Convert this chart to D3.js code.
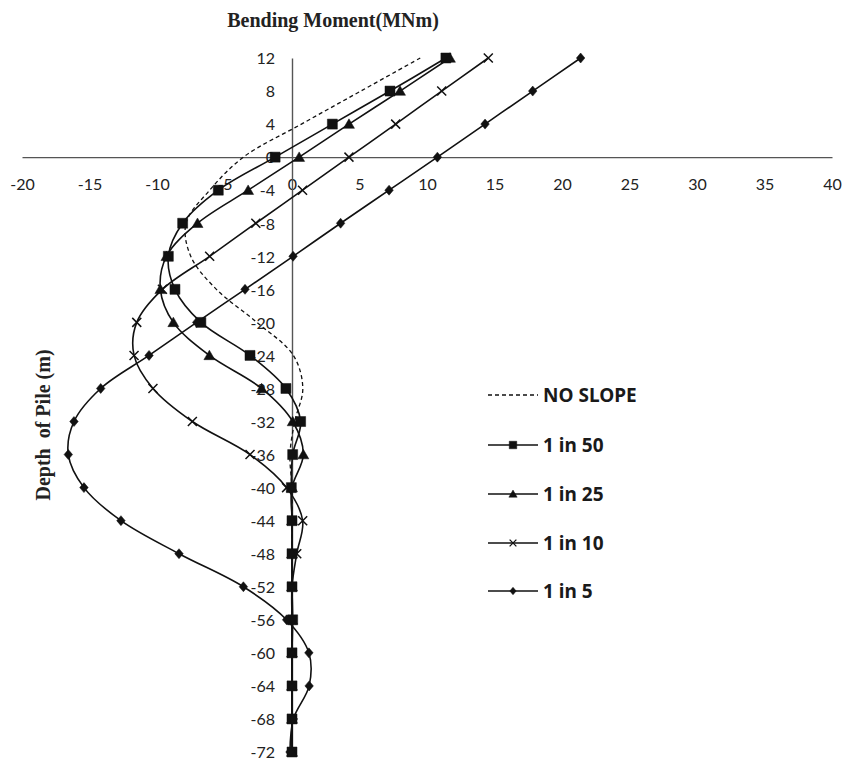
<!DOCTYPE html>
<html>
<head>
<meta charset="utf-8">
<script src="https://cdn.jsdelivr.net/npm/d3@7"></script>
<style>
  html, body { margin: 0; padding: 0; background: #fff; }
  svg { display: block; }
  .tick text { font-family: Lato, "Noto Sans", sans-serif; font-size: 16px; fill: #222; }
</style>
</head>
<body>
<svg id="chart" width="856" height="762"></svg>
<script>
// Depth along the pile (m), one reading every 4 m
const depths = [12, 8, 4, 0, -4, -8, -12, -16, -20, -24, -28, -32, -36, -40, -44, -48, -52, -56, -60, -64, -68, -72];

// Bending moment (MNm) at each depth, per ground slope
const noSlope = [9.5, 5.1, 0.7, -3.6, -6.1, -7.85, -7.5, -5.6, -2.6, 0.1, 0.8, 0.2, -0.15, 0, 0, 0, 0, 0, 0, 0, 0, 0];
const slope50 = [11.4, 7.26, 2.99, -1.25, -5.46, -8.1, -9.16, -8.67, -6.75, -3.11, -0.45, 0.64, 0.05, -0.05, 0, 0, 0, 0.05, 0, 0, 0, 0];
const slope25 = [11.7, 8.0, 4.22, 0.53, -3.25, -7.0, -9.3, -9.75, -8.79, -6.12, -2.25, 0.05, 0.84, 0, 0, 0, 0, 0, 0, 0, 0, 0];
const slope10 = [14.54, 11.09, 7.68, 4.22, 0.78, -2.68, -6.1, -9.6, -11.5, -11.7, -10.3, -7.38, -3.11, -0.4, 0.79, 0.35, 0, 0, 0, 0, 0, 0];
const slope5  = [21.38, 17.83, 14.3, 10.77, 7.19, 3.6, 0.08, -3.48, -7.06, -10.59, -14.17, -16.15, -16.57, -15.41, -12.67, -8.37, -3.6, -0.4, 1.25, 1.27, 0.1, -0.15];

const seriesNames = ["NO SLOPE", "1 in 50", "1 in 25", "1 in 10", "1 in 5"];
const seriesValues = [noSlope, slope50, slope25, slope10, slope5];
const seriesMarkers = ["none", "square", "triangle", "cross", "diamond"];

// Axis ticks
const xTicks = [-20, -15, -10, -5, 0, 5, 10, 15, 20, 25, 30, 35, 40];
const yTicks = [12, 8, 4, 0, -4, -8, -12, -16, -20, -24, -28, -32, -36, -40, -44, -48, -52, -56, -60, -64, -68, -72];

const xTitle = "Bending Moment(MNm)";
const yTitle = "Depth\u00a0\u00a0of Pile (m)";

const svg = d3.select("#chart");

const x = d3.scaleLinear().domain([-20, 40]).range([22, 832]);
const y = d3.scaleLinear().domain([12, -72]).range([58, 752]);

const axisColor = "#555";
const plainNumber = d => String(d);

// Horizontal axis through zero depth
const gx = svg.append("g")
  .attr("transform", `translate(0,${y(0)})`)
  .call(d3.axisBottom(x).tickValues(xTicks).tickSize(0).tickSizeOuter(0).tickPadding(21).tickFormat(plainNumber));
gx.select(".domain").attr("stroke", axisColor).attr("stroke-width", 1.4);

// Vertical axis through zero moment
const gy = svg.append("g")
  .attr("transform", `translate(${x(0)},0)`)
  .call(d3.axisLeft(y).tickValues(yTicks).tickSize(0).tickSizeOuter(0).tickPadding(17).tickFormat(plainNumber));
gy.select(".domain").attr("stroke", axisColor).attr("stroke-width", 1.4);
gy.selectAll(".tick text").attr("dy", "0.36em");

// Titles
svg.append("text")
  .attr("x", 333).attr("y", 27)
  .attr("text-anchor", "middle")
  .attr("font-family", "'Liberation Serif', 'Times New Roman', serif")
  .attr("font-weight", "bold")
  .attr("font-size", 20)
  .attr("fill", "#222")
  .text(xTitle);

svg.append("text")
  .attr("transform", "translate(50,425) rotate(-90)")
  .attr("text-anchor", "middle")
  .attr("font-family", "'Liberation Serif', 'Times New Roman', serif")
  .attr("font-weight", "bold")
  .attr("font-size", 20)
  .attr("fill", "#222")
  .text(yTitle);

// Marker shapes
function markerPath(type, s) {
  const h = s / 2;
  switch (type) {
    case "square": return `M${-h},${-h}H${h}V${h}H${-h}Z`;
    case "triangle": return `M0,${-h * 1.05}L${h * 1.1},${h * 0.85}L${-h * 1.1},${h * 0.85}Z`;
    case "diamond": return `M0,${-h}L${h * 0.85},0L0,${h}L${-h * 0.85},0Z`;
    case "cross": return `M${-h},${-h}L${h},${h}M${-h},${h}L${h},${-h}`;
    default: return "";
  }
}
const markerSize = { square: 10, triangle: 10, diamond: 10, cross: 9 };

const line = d3.line()
  .x(d => x(d.v))
  .y(d => y(d.depth))
  .curve(d3.curveCatmullRom.alpha(0.5));

const plot = svg.append("g");

seriesValues.forEach((vals, i) => {
  const pts = depths.map((depth, k) => ({ depth, v: vals[k] }));
  const g = plot.append("g");
  g.append("path")
    .datum(pts)
    .attr("d", line)
    .attr("fill", "none")
    .attr("stroke", "#111")
    .attr("stroke-width", i === 0 ? 1.3 : 1.6)
    .attr("stroke-dasharray", i === 0 ? "4,3" : null);
  const type = seriesMarkers[i];
  if (type !== "none") {
    g.selectAll("path.mk")
      .data(pts)
      .join("path")
      .attr("class", "mk")
      .attr("transform", d => `translate(${x(d.v)},${y(d.depth)})`)
      .attr("d", markerPath(type, markerSize[type]))
      .attr("fill", type === "cross" ? "none" : "#111")
      .attr("stroke", "#111")
      .attr("stroke-width", type === "cross" ? 1.5 : 0.5);
  }
});

// Legend
const legendY = [395, 445, 494, 543, 591];
const legend = svg.append("g");
seriesNames.forEach((name, i) => {
  const ly = legendY[i];
  const type = seriesMarkers[i];
  legend.append("line")
    .attr("x1", 488).attr("x2", 538)
    .attr("y1", ly).attr("y2", ly)
    .attr("stroke", "#111")
    .attr("stroke-width", i === 0 ? 1.3 : 1.6)
    .attr("stroke-dasharray", i === 0 ? "4,3" : null);
  if (type !== "none") {
    legend.append("path")
      .attr("transform", `translate(513,${ly})`)
      .attr("d", markerPath(type, markerSize[type] * 0.75))
      .attr("fill", type === "cross" ? "none" : "#111")
      .attr("stroke", "#111")
      .attr("stroke-width", type === "cross" ? 1.3 : 0.5);
  }
  legend.append("text")
    .attr("x", 543).attr("y", ly)
    .attr("dy", "0.36em")
    .attr("font-family", "'Noto Sans', 'Open Sans', sans-serif")
    .attr("font-weight", "bold")
    .attr("font-size", 19)
    .attr("fill", "#1a1a1a")
    .text(name);
});
</script>
</body>
</html>
